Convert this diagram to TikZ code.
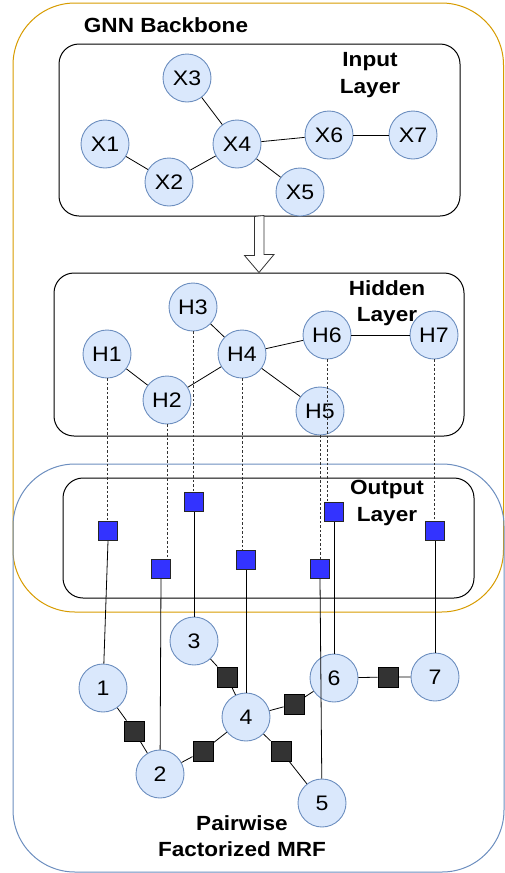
\documentclass[tikz,border=0pt]{standalone}
\usepackage{fontspec}
\setmainfont{Liberation Sans}[FakeStretch=1.1]
\definecolor{nodefill}{HTML}{DAE8FC}
\definecolor{nodeborder}{HTML}{6C8EBF}
\definecolor{orangeline}{HTML}{D79B00}
\definecolor{blueline}{HTML}{6C8EBF}
\definecolor{outblue}{HTML}{3333FF}
\definecolor{facgray}{HTML}{333333}
\tikzset{
  gn/.style={circle, draw=nodeborder, fill=nodefill, line width=0.9pt, minimum size=48pt, inner sep=0pt, font=\fontsize{21}{24}\selectfont},
  layerbox/.style={draw=black, rounded corners=20pt, line width=1pt, inner sep=0pt},
  bigbox/.style={rounded corners=62pt, line width=1pt, inner sep=0pt},
  outsq/.style={draw=black!85, fill=outblue, line width=0.9pt, minimum size=19pt, inner sep=0pt},
  facsq/.style={draw=black, fill=facgray, line width=0.9pt, minimum size=20pt, inner sep=0pt},
  edge/.style={draw=black, line width=0.8pt},
  hdash/.style={draw=black!80, line width=0.8pt, dash pattern=on 2.5pt off 2pt},
  title/.style={font=\bfseries\fontsize{20.5}{26.5}\selectfont, align=center, inner sep=0pt}
}
\begin{document}
\begin{tikzpicture}[x=1pt,y=-1pt]
\useasboundingbox (0,0) rectangle (505,873);
% big containers
\node[bigbox, draw=orangeline, minimum width=490.5pt, minimum height=609pt] (gnnbox) at (258.25,307.5) {};
\node[bigbox, draw=blueline, minimum width=491pt, minimum height=408pt] (mrfbox) at (258.5,668) {};
% layer boxes
\node[layerbox, minimum width=401pt, minimum height=172pt] (inbox) at (259.5,130) {};
\node[layerbox, minimum width=410pt, minimum height=163pt] (hidbox) at (259,354.5) {};
\node[layerbox, minimum width=411pt, minimum height=120pt] (outbox) at (268.5,538) {};
% titles
\node[title] (tgnn) at (166,25) {GNN Backbone};
\node[title] (tin) at (370,75) {Input\\Layer};
\node[title] (thid) at (387,303) {Hidden\\Layer};
\node[title] (tout) at (387,503) {Output\\Layer};
\node[title] (tmrf) at (242,836) {Pairwise\\Factorized MRF};
% block arrow
\draw[draw=black!80, fill=white, line width=0.8pt]
  (inbox.south) ++(-5,0) -- ++(0,39) -- ++(-10,0) -- (hidbox.north) -- ++(15,-18) -- ++(-10,0) -- ++(0,-39) -- cycle;
% input layer
\node[gn] (X3) at (187,78) {X3};
\node[gn] (X1) at (105,144) {X1};
\node[gn] (X2) at (169,182) {X2};
\node[gn] (X4) at (237,144) {X4};
\node[gn] (X5) at (300,192) {X5};
\node[gn] (X6) at (329,135) {X6};
\node[gn] (X7) at (413,135) {X7};
\draw[edge] (X3) -- (X4);
\draw[edge] (X1) -- (X2);
\draw[edge] (X2) -- (X4);
\draw[edge] (X4) -- (X5);
\draw[edge] (X4) -- (X6);
\draw[edge] (X6) -- (X7);
% hidden layer
\node[gn] (H3) at (193,307) {H3};
\node[gn] (H1) at (107,354) {H1};
\node[gn] (H2) at (167,400) {H2};
\node[gn] (H4) at (242,354) {H4};
\node[gn] (H5) at (320,411) {H5};
\node[gn] (H6) at (327,335) {H6};
\node[gn] (H7) at (434,335) {H7};
\draw[edge] (H3) -- (H4);
\draw[edge] (H1) -- (H2);
\draw[edge] (H2) -- (H4);
\draw[edge] (H4) -- (H5);
\draw[edge] (H4) -- (H6);
\draw[edge] (H6) -- (H7);
% output layer squares
\node[outsq] (S1) at (108,531) {};
\node[outsq] (S2) at (161,569) {};
\node[outsq] (S3) at (194,502) {};
\node[outsq] (S4) at (246,560) {};
\node[outsq] (S5) at (320,569) {};
\node[outsq] (S6) at (334,512) {};
\node[outsq] (S7) at (435,531) {};
\foreach \i in {1,...,7} {
  \draw[hdash] (H\i.south) -- (H\i.south |- S\i.north);
}
% MRF nodes
\node[gn] (M1) at (103,688) {1};
\node[gn] (M2) at (160,774) {2};
\node[gn] (M3) at (194,641) {3};
\node[gn] (M4) at (246,717) {4};
\node[gn] (M5) at (322,803) {5};
\node[gn] (M6) at (334,678) {6};
\node[gn] (M7) at (435,677) {7};
% factors
\node[facsq] (F12) at (134,731) {};
\node[facsq] (F24) at (203,751) {};
\node[facsq] (F34) at (227,677) {};
\node[facsq] (F46) at (294,704) {};
\node[facsq] (F45) at (281,751) {};
\node[facsq] (F67) at (388,677) {};
\draw[edge] (M1) -- (F12) -- (M2);
\draw[edge] (M2) -- (F24) -- (M4);
\draw[edge] (M3) -- (F34) -- (M4);
\draw[edge] (M4) -- (F46) -- (M6);
\draw[edge] (M4) -- (F45) -- (M5);
\draw[edge] (M6) -- (F67) -- (M7);
% square to MRF node
\foreach \i in {1,...,7} {
  \draw[edge] (S\i.south) -- (M\i);
}
\end{tikzpicture}
\end{document}
